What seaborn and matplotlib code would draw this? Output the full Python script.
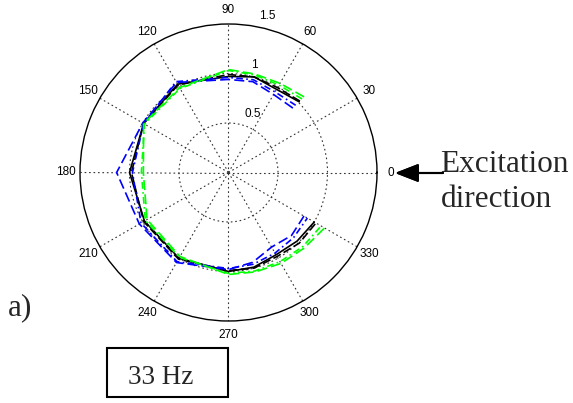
import numpy as np
import pandas as pd
import matplotlib
matplotlib.use("Agg")
import matplotlib.pyplot as plt
from matplotlib.patches import Rectangle
import seaborn as sns

# Measurement angles (degrees) and normalised response for each run
angles_deg = [45, 60, 75, 90, 120, 150, 180, 210, 240, 270, 285, 300, 315, 330]
black_solid = [1.01, 0.97, 1.00, 0.97, 1.03, 0.99, 1.00, 0.98, 1.00, 1.00, 0.99, 0.96, 0.98, 1.00]
black_dash = [1.02, 0.99, 1.00, 0.99, 1.02, 0.99, 0.98, 0.99, 1.01, 0.99, 1.00, 0.98, 1.01, 1.02]
blue_a = [0.92, 0.91, 0.95, 0.94, 1.05, 1.00, 1.13, 1.04, 1.05, 0.98, 0.94, 0.87, 0.90, 0.88]
blue_b = [0.96, 0.94, 0.97, 0.96, 1.06, 0.99, 0.97, 1.02, 1.04, 0.97, 0.96, 0.94, 0.93, 0.92]
green_a = [1.08, 1.04, 1.03, 1.04, 0.99, 0.99, 0.86, 0.95, 0.98, 1.03, 1.04, 1.06, 1.08, 1.12]
green_b = [1.05, 1.02, 1.02, 1.03, 0.98, 0.98, 0.88, 0.97, 0.99, 1.02, 1.03, 1.04, 1.06, 1.08]

theta_ticks = list(range(0, 360, 30))
theta_labels = [str(t) for t in theta_ticks]
r_ticks = [0.5, 1.0, 1.5]
r_labels = ["0.5", "1", "1.5"]

series = {
    "black_solid": black_solid,
    "black_dash": black_dash,
    "blue_a": blue_a,
    "blue_b": blue_b,
    "green_a": green_a,
    "green_b": green_b,
}
frames = []
for name, vals in series.items():
    frames.append(pd.DataFrame({
        "theta": np.deg2rad(angles_deg),
        "r": vals,
        "run": name,
    }))
df = pd.concat(frames, ignore_index=True)

palette = {
    "black_solid": "black",
    "black_dash": "black",
    "blue_a": "#0000ff",
    "blue_b": "#0000ff",
    "green_a": "#00ff00",
    "green_b": "#00ff00",
}
dashes = {
    "black_solid": "",
    "black_dash": (5, 2),
    "blue_a": (6, 2.5),
    "blue_b": (4, 2, 1, 2),
    "green_a": (6, 2.5),
    "green_b": (4, 2, 1, 2),
}

sns.set_style("white")
plt.rcParams["font.family"] = ["Liberation Sans", "DejaVu Sans"]

W, H = 573, 403
fig = plt.figure(figsize=(W / 100, H / 100), dpi=100)
cx, cy, rad = 228.5, 172.5, 148.5
ax = fig.add_axes([(cx - rad) / W, (H - cy - rad) / H, 2 * rad / W, 2 * rad / H],
                  projection="polar")

sns.lineplot(data=df, x="theta", y="r", hue="run", style="run",
             palette=palette, dashes=dashes, sort=False, estimator=None,
             legend=False, linewidth=1.2, ax=ax)

ax.set_ylim(0, 1.5)
ax.set_rgrids([0.5, 1.0], labels=["", ""])
ax.set_thetagrids(theta_ticks, labels=[""] * len(theta_ticks))
ax.grid(True, linestyle=(0, (1.5, 2.5)), color="#333333", linewidth=0.8)
ax.spines["polar"].set_color("black")
ax.spines["polar"].set_linewidth(1.0)
ax.set_xlabel("")
ax.set_ylabel("")

# angle labels just outside the rim
for t, lab in zip(theta_ticks, theta_labels):
    ax.text(np.deg2rad(t), 1.64, lab, ha="center", va="center",
            fontsize=8.5, color="black", clip_on=False)

# radial tick labels
r_label_pos = [(67.3, 0.64), (76.4, 1.117), (76.2, 1.627)]
for lab, (ang, rr) in zip(r_labels, r_label_pos):
    ax.text(np.deg2rad(ang), rr, lab, ha="center", va="center",
            fontsize=8.5, color="black", clip_on=False)

serif = ["Liberation Serif", "DejaVu Serif"]
fig.text(440 / W, 1 - 171.7 / H, "Excitation", family=serif, fontsize=22.5,
         ha="left", va="baseline")
fig.text(441 / W, 1 - 206.7 / H, "direction", family=serif, fontsize=22.5,
         ha="left", va="baseline")
fig.text(8 / W, 1 - 315 / H, "a)", family=serif, fontsize=22.5,
         ha="left", va="baseline")

fig.patches.append(Rectangle((107 / W, 1 - 397 / H), 121 / W, 49 / H,
                             transform=fig.transFigure, fill=False,
                             edgecolor="black", linewidth=1.5))
fig.text(128 / W, 1 - 384 / H, "33 Hz", family=serif, fontsize=19.5,
         ha="left", va="baseline")

fig.add_artist(plt.annotate(
    "", xy=(395, H - 173), xytext=(443, H - 173),
    xycoords="figure pixels", textcoords="figure pixels",
    arrowprops=dict(arrowstyle="-|>,head_length=0.9,head_width=0.35",
                    color="black", lw=1.5, mutation_scale=16,
                    shrinkA=0, shrinkB=0)))

fig.savefig("out.png", dpi=100, facecolor="white")
